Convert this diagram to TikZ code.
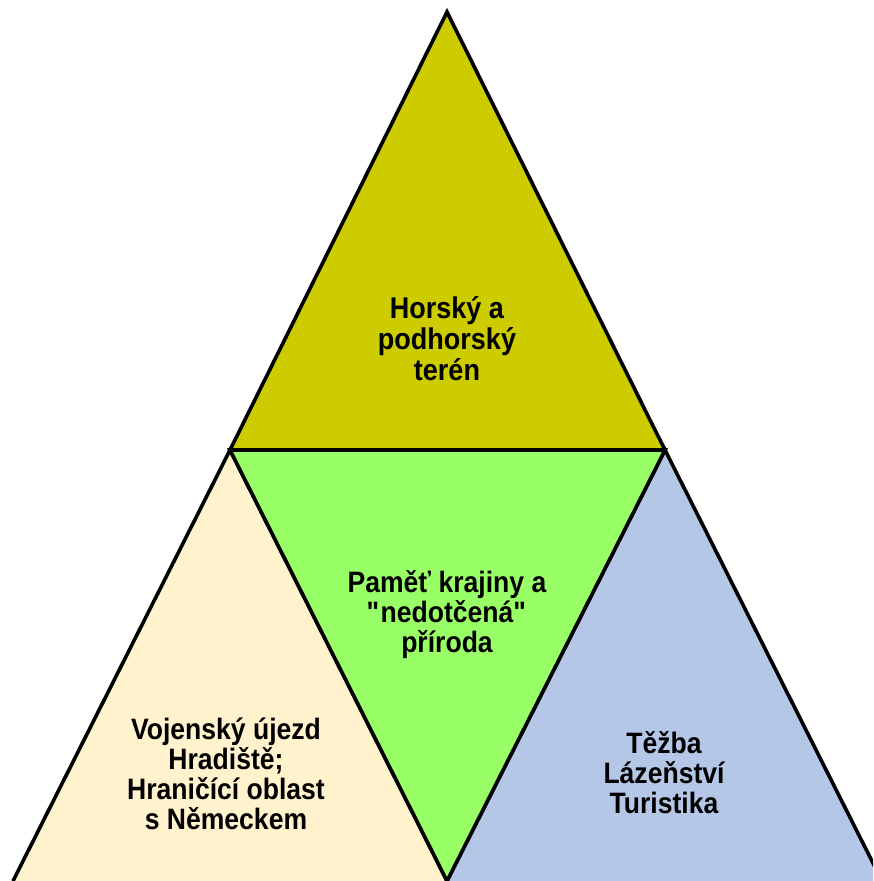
\documentclass[tikz,border=0pt]{standalone}
\usepackage{fontspec}
\setmainfont[FakeStretch=0.9]{Liberation Sans}
\usepackage{tikz}

\definecolor{olive}{HTML}{CCCC00}
\definecolor{lightgreen}{HTML}{99FF66}
\definecolor{cream}{HTML}{FFF2CC}
\definecolor{paleblue}{HTML}{B4C7E7}

\tikzset{
  tri/.style={draw=black, line width=3.6pt},
  label/.style={align=center, inner sep=0pt, font=\fontsize{29.5}{30}\selectfont\bfseries}
}

\begin{document}
\begin{tikzpicture}[x=1pt, y=-1pt]
    \useasboundingbox (0,0) rectangle (873,881);
    \clip (0,0) rectangle (873,881);

    % Corners of the triangles
    \coordinate (apex) at (447,12);
    \coordinate (midL) at (230,450);
    \coordinate (midR) at (665,450);
    \coordinate (botL) at (13,881);
    \coordinate (botM) at (447,881);
    \coordinate (botR) at (882,881);

    % Lower left and lower right triangles (base lies on the lower edge)
    \draw[tri, fill=cream] (botL) -- (midL) -- (botM);
    \draw[tri, fill=paleblue] (botM) -- (midR) -- (botR);

    % Middle (inverted) triangle
    \draw[tri, fill=lightgreen] (midL) -- (midR) -- (botM) -- cycle;

    % Top triangle
    \draw[tri, fill=olive] (apex) -- (midR) -- (midL) -- cycle;

    % Texts
    \node[label, font=\fontsize{30}{31}\selectfont\bfseries] (teren) at (447,339) {Horský a\\podhorský\\terén};
    \node[label] (pamet) at (447,615) {Paměť krajiny a\\\textquotedbl nedotčená\textquotedbl\\příroda};
    \node[label] (ujezd) at (226,774) {Vojenský újezd\\Hradiště;\\Hraničící oblast\\s Německem};
    \node[label] (tezba) at (664,773) {Těžba\\Lázeňství\\Turistika};
\end{tikzpicture}
\end{document}
